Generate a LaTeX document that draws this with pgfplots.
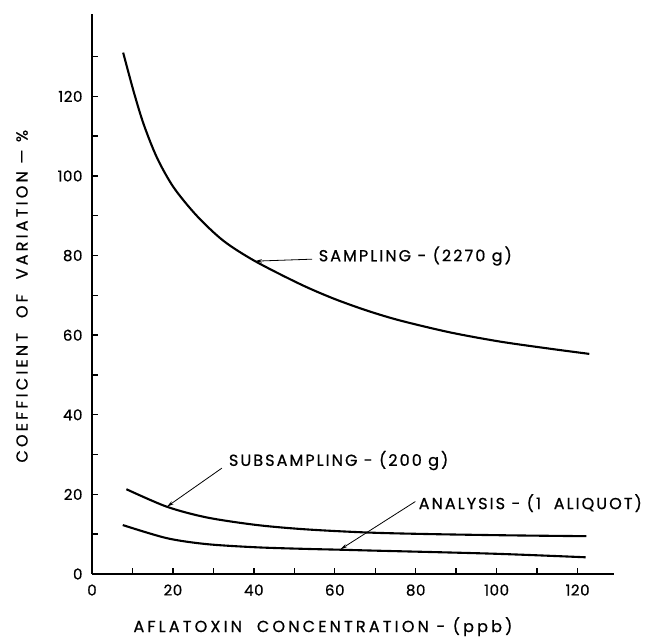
\documentclass[border=0pt]{standalone}
\usepackage{fontspec}
\setmainfont{Poppins}
\newfontfamily\lbl{Poppins}[LetterSpace=13, FakeBold=0.8]
\newfontfamily\axl{Poppins}[LetterSpace=20, FakeBold=0.8]
\newfontfamily\tck{Poppins}[LetterSpace=4, FakeBold=0.8]
\usepackage{pgfplots}
\pgfplotsset{compat=1.18}
\usetikzlibrary{arrows.meta}
\begin{document}
\begin{tikzpicture}
\path[use as bounding box] (0,0) rectangle (654bp,638bp);
\begin{axis}[
  at={(92bp,64bp)}, anchor=south west,
  scale only axis, width=522bp, height=560bp,
  xmin=0, xmax=129, ymin=0, ymax=140.7,
  axis x line=bottom, axis y line=left,
  axis line style={-, line width=1.6bp, black},
  xtick={0,20,...,120}, minor xtick={10,30,...,110},
  ytick={0,20,...,120}, minor ytick={10,30,...,130},
  tick align=inside, major tick length=6bp, minor tick length=6bp,
  every tick/.style={line width=1.4bp, black},
  /pgf/number format/assume math mode=true,
  ticklabel style={font=\tck\fontsize{15bp}{17bp}\selectfont},
  xticklabel style={yshift=-7bp},
  yticklabel style={xshift=-6bp},
  xlabel={AFLATOXIN\ \ CONCENTRATION - (ppb)},
  ylabel={COEFFICIENT\ \ OF\ \ VARIATION — \%},
  xlabel style={at={(axis description cs:0.4425,-0.094)}, anchor=center, font=\axl\fontsize{16bp}{18bp}\selectfont},
  ylabel style={at={(axis description cs:-0.134,0.496)}, anchor=center, font=\axl\fontsize{16bp}{18bp}\selectfont},
  clip=false,
]
\addplot[black, line width=2.1bp, smooth] coordinates {
(7.7,131) (10.3,121.2) (12.8,112.9) (16.1,104.5) (20.2,97.1) (25.9,90.0) (32.5,83.7) (40.3,78.6) (51.5,72.8) (59.7,69.2) (67.9,66.2) (76.1,63.7) (88.5,60.7) (100.8,58.4) (113.2,56.6) (122.9,55.3)
};
\addplot[black, line width=2.1bp, smooth] coordinates {
(8.5,21.3) (18.5,16.9) (28.4,14.2) (40.8,12.3) (53.1,11.2) (68.7,10.4) (85,10.0) (104,9.7) (122.2,9.5)
};
\addplot[black, line width=2.1bp, smooth] coordinates {
(7.6,12.3) (18.5,9.0) (28.4,7.5) (40.8,6.7) (53.1,6.3) (61.4,6.1) (68.7,5.9) (99.2,5.1) (122,4.2)
};
\draw[line width=0.8bp, -{Stealth[length=7bp,width=3.5bp]}] (axis cs:54.4,79.1) -- (axis cs:40.3,78.6);
\draw[line width=0.8bp, -{Stealth[length=7bp,width=3.5bp]}] (axis cs:32.1,26.6) -- (axis cs:18.5,16.9);
\draw[line width=0.8bp, -{Stealth[length=7bp,width=3.5bp]}] (axis cs:79.9,18.2) -- (axis cs:61.4,6.2);
\node[anchor=west, inner sep=0pt, font=\lbl\fontsize{16bp}{18bp}\selectfont] at (axis cs:56,79.9) {SAMPLING - (2270 g)};
\node[anchor=west, inner sep=0pt, font=\lbl\fontsize{16bp}{18bp}\selectfont] at (axis cs:33.8,28.5) {SUBSAMPLING - (200 g)};
\node[anchor=west, inner sep=0pt, font=\lbl\fontsize{16bp}{18bp}\selectfont] at (axis cs:80.7,17.8) {ANALYSIS - (1\ \ ALIQUOT)};
\end{axis}
\end{tikzpicture}
\end{document}
